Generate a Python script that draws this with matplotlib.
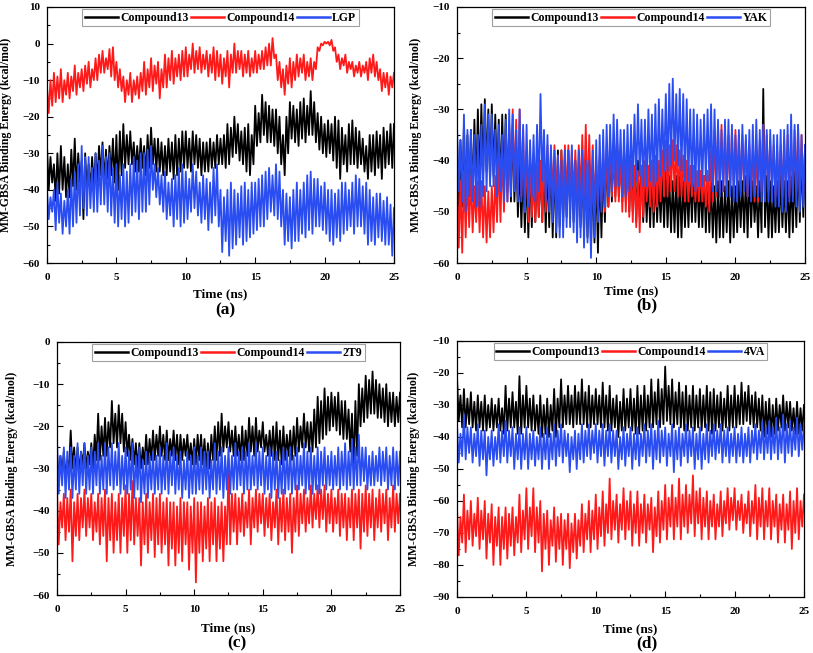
import numpy as np
import matplotlib
matplotlib.use("Agg")
import matplotlib.pyplot as plt
from matplotlib.ticker import MultipleLocator

plt.rcParams['font.family'] = ['Liberation Serif', 'DejaVu Serif']
plt.rcParams['font.weight'] = 'bold'

# peaks (t = 0, 0.25, ... 25) and troughs (t = 0.125, 0.375, ... 24.875)
# panel (a)
a_c13_hi = [-28, -31, -33, -30, -28, -31, -33, -29, -26, -30,
            -32, -30, -33, -31, -30, -28, -27, -29, -28, -26,
            -25, -24, -22, -25, -24, -27, -28, -26, -28, -25,
            -23, -26, -26, -27, -28, -26, -27, -25, -26, -24,
            -24, -26, -24, -25, -26, -27, -27, -26, -27, -25,
            -26, -25, -22, -23, -20, -22, -24, -23, -22, -25,
            -17, -19, -14, -16, -17, -18, -18, -20, -25, -20,
            -16, -17, -18, -16, -15, -17, -13, -16, -19, -20,
            -22, -21, -22, -20, -21, -23, -25, -22, -21, -23,
            -24, -26, -28, -25, -25, -24, -25, -23, -24, -22,
            -22]
a_c13_lo = [-40, -38, -43, -41, -40, -42, -42, -39, -40, -38,
            -48, -40, -40, -39, -38, -36, -38, -37, -36, -38,
            -40, -36, -34, -33, -33, -35, -35, -34, -36, -34,
            -33, -35, -35, -36, -36, -35, -37, -36, -35, -34,
            -34, -35, -33, -34, -36, -35, -35, -34, -34, -33,
            -33, -34, -33, -31, -30, -32, -33, -35, -36, -33,
            -28, -27, -25, -27, -27, -28, -30, -33, -36, -30,
            -26, -27, -28, -26, -27, -25, -25, -27, -29, -30,
            -31, -30, -32, -34, -37, -33, -35, -33, -33, -34,
            -33, -35, -37, -35, -36, -34, -37, -34, -33, -34]
a_c14_hi = [-12, -10, -8, -9, -7, -10, -8, -9, -6, -8,
            -7, -6, -5, -7, -4, -3, -2, -4, -1.5, -1,
            -5, -7, -9, -10, -8, -10, -9, -8, -5, -7,
            -4, -6, -5, -7, -3, -4, -2, -4, -3, -2,
            -1, -3, 0, -2, -1, -3, -2, -3, -1, -2,
            -3, -4, -2, -3, 0, -2, -2, -3, -2, -4,
            -2, -3, -2, -1, 0, 1.5, -3, -5, -7, -6,
            -4, -5, -3, -4, -3, -5, -4, -5, -1, 0,
            0.5, 0.5, 1, -1, -3, -4, -3, -5, -5, -6,
            -5, -6, -5, -4, -3, -5, -7, -8, -8, -9,
            -8]
a_c14_lo = [-19, -17, -16, -15, -16, -14, -15, -13, -14, -12,
            -13, -11, -12, -10, -10, -8, -8, -7, -9, -10,
            -12, -13, -16, -14, -16, -14, -15, -13, -14, -12,
            -13, -11, -15, -12, -12, -10, -11, -9, -10, -9,
            -9, -7, -8, -7, -8, -7, -9, -8, -10, -9,
            -11, -9, -12, -8, -8, -7, -9, -8, -9, -8,
            -8, -7, -7, -6, -6, -4, -10, -12, -14, -11,
            -12, -10, -9, -8, -10, -9, -10, -7, -2, -0.5,
            0, -0.5, -2, -5, -7, -6, -8, -7, -9, -8,
            -9, -8, -10, -8, -9, -10, -13, -12, -14, -12]
a_lig_hi = [-40, -42, -40, -38, -41, -43, -40, -37, -35, -33,
            -28, -31, -31, -34, -30, -32, -28, -31, -30, -34,
            -33, -36, -33, -35, -33, -31, -32, -30, -30, -29,
            -28, -33, -34, -36, -35, -38, -37, -36, -34, -33,
            -35, -37, -33, -35, -38, -36, -37, -38, -34, -33,
            -40, -42, -40, -38, -40, -41, -39, -38, -40, -38,
            -38, -37, -36, -35, -34, -36, -33, -35, -40, -41,
            -42, -40, -38, -40, -38, -36, -35, -37, -37, -39,
            -38, -40, -40, -41, -40, -38, -38, -40, -38, -36,
            -37, -39, -38, -40, -42, -41, -41, -43, -42, -44,
            -45]
a_lig_lo = [-48, -46, -51, -49, -52, -50, -52, -50, -49, -47,
            -45, -47, -45, -46, -46, -44, -44, -46, -47, -49,
            -50, -48, -50, -49, -47, -46, -48, -46, -46, -44,
            -40, -42, -44, -46, -48, -47, -50, -48, -50, -49,
            -48, -46, -45, -47, -49, -48, -51, -49, -47, -50,
            -57, -54, -58, -56, -55, -53, -55, -54, -53, -52,
            -51, -50, -50, -48, -46, -47, -48, -50, -55, -54,
            -56, -54, -54, -52, -53, -51, -52, -50, -50, -51,
            -52, -54, -55, -53, -54, -52, -51, -50, -52, -50,
            -50, -52, -55, -54, -55, -53, -54, -55, -55, -58]

# panel (b)
b_c13_hi = [-35, -36, -33, -35, -34, -32, -30, -29, -28, -30,
            -29, -31, -32, -31, -31, -34, -33, -37, -40, -41,
            -42, -41, -40, -41, -41, -40, -40, -39, -40, -38,
            -38, -39, -38, -40, -40, -41, -42, -41, -42, -43,
            -42, -40, -40, -39, -38, -37, -36, -38, -38, -39,
            -40, -41, -40, -41, -42, -43, -42, -43, -44, -43,
            -42, -43, -44, -43, -43, -44, -44, -43, -42, -43,
            -44, -43, -43, -44, -45, -44, -44, -45, -44, -45,
            -45, -44, -44, -43, -42, -44, -45, -44, -26, -43,
            -44, -45, -44, -43, -44, -44, -43, -42, -40, -39,
            -37]
b_c13_lo = [-50, -49, -48, -47, -47, -46, -45, -43, -42, -44,
            -43, -44, -45, -46, -46, -48, -48, -51, -53, -54,
            -55, -53, -52, -51, -52, -54, -53, -55, -55, -53,
            -52, -51, -50, -52, -52, -53, -54, -55, -57, -56,
            -58, -55, -52, -49, -48, -47, -47, -48, -48, -50,
            -50, -52, -51, -52, -52, -53, -53, -52, -52, -53,
            -53, -54, -54, -55, -55, -53, -53, -52, -52, -53,
            -53, -54, -54, -55, -56, -55, -55, -54, -56, -55,
            -54, -53, -54, -55, -53, -52, -55, -54, -53, -55,
            -55, -54, -54, -53, -54, -55, -54, -53, -52, -51]
b_c14_hi = [-42, -44, -42, -43, -43, -45, -44, -44, -45, -46,
            -45, -43, -40, -38, -35, -33, -30, -32, -30, -34,
            -38, -40, -42, -41, -40, -38, -37, -38, -37, -39,
            -38, -37, -37, -38, -38, -37, -35, -33, -35, -37,
            -40, -39, -38, -37, -36, -37, -37, -38, -38, -39,
            -40, -41, -42, -41, -40, -41, -40, -39, -40, -38,
            -36, -37, -36, -37, -38, -39, -40, -41, -41, -42,
            -42, -43, -42, -38, -34, -33, -33, -34, -35, -34,
            -34, -35, -35, -36, -37, -38, -38, -36, -33, -35,
            -36, -37, -38, -37, -36, -35, -36, -34, -33, -35,
            -38]
b_c14_lo = [-57, -58, -55, -53, -54, -52, -54, -55, -56, -55,
            -54, -52, -52, -50, -48, -46, -45, -47, -47, -50,
            -52, -51, -52, -51, -52, -50, -48, -47, -47, -49,
            -50, -48, -48, -47, -48, -47, -47, -48, -48, -49,
            -50, -48, -50, -49, -47, -48, -48, -50, -50, -51,
            -52, -53, -54, -51, -48, -49, -50, -49, -48, -47,
            -47, -46, -46, -47, -47, -48, -48, -47, -48, -48,
            -48, -49, -50, -48, -47, -46, -46, -47, -46, -45,
            -45, -46, -46, -47, -47, -48, -48, -46, -45, -46,
            -45, -47, -48, -47, -46, -47, -47, -46, -47, -46]
b_lig_hi = [-33, -36, -31, -34, -34, -35, -35, -33, -29, -31,
            -31, -34, -33, -35, -32, -30, -31, -34, -30, -33,
            -33, -36, -35, -33, -27, -34, -35, -37, -38, -39,
            -40, -38, -38, -37, -40, -38, -38, -40, -40, -38,
            -36, -35, -34, -33, -33, -31, -32, -34, -34, -33,
            -33, -31, -29, -32, -32, -30, -31, -29, -28, -30,
            -27, -25, -24, -27, -26, -27, -28, -30, -30, -31,
            -32, -31, -30, -29, -30, -32, -34, -32, -32, -33,
            -35, -34, -33, -35, -34, -33, -32, -34, -33, -34,
            -34, -35, -35, -34, -34, -33, -31, -33, -33, -35,
            -37]
b_lig_lo = [-46, -48, -50, -47, -48, -49, -49, -47, -46, -45,
            -45, -47, -46, -48, -48, -47, -46, -48, -48, -50,
            -49, -47, -48, -46, -44, -48, -50, -52, -54, -55,
            -55, -53, -53, -54, -56, -55, -57, -56, -59, -55,
            -52, -50, -49, -47, -46, -45, -45, -47, -47, -46,
            -45, -44, -43, -45, -45, -44, -45, -44, -43, -42,
            -42, -41, -40, -41, -42, -44, -44, -45, -46, -45,
            -45, -44, -44, -46, -46, -47, -46, -47, -47, -48,
            -48, -47, -46, -47, -48, -47, -47, -48, -48, -48,
            -48, -49, -49, -50, -50, -48, -48, -49, -50, -49]

# panel (c)
c_c13_hi = [-26, -27, -26, -28, -21, -25, -25, -26, -24, -26,
            -24, -22, -17, -20, -18, -19, -14, -17, -15, -17,
            -19, -22, -23, -24, -24, -25, -22, -23, -21, -22,
            -20, -22, -21, -23, -21, -22, -22, -23, -22, -24,
            -23, -22, -22, -23, -24, -22, -20, -19, -17, -20,
            -19, -21, -20, -22, -20, -21, -18, -20, -18, -21,
            -19, -22, -21, -20, -19, -21, -20, -22, -21, -20,
            -18, -20, -17, -19, -19, -16, -13, -14, -11, -13,
            -12, -13, -12, -14, -14, -16, -17, -14, -10, -11,
            -8, -9, -7, -9, -10, -11, -10, -12, -12, -13,
            -12]
c_c13_lo = [-33, -31, -32, -30, -30, -31, -31, -29, -30, -29,
            -30, -28, -28, -27, -27, -25, -24, -25, -24, -26,
            -27, -28, -29, -30, -30, -29, -29, -28, -28, -27,
            -27, -28, -28, -27, -28, -29, -28, -27, -28, -29,
            -29, -28, -29, -30, -30, -28, -28, -27, -26, -25,
            -26, -27, -27, -28, -28, -27, -26, -27, -26, -25,
            -26, -27, -27, -28, -28, -29, -28, -27, -28, -27,
            -26, -25, -25, -26, -26, -25, -24, -23, -22, -21,
            -20, -21, -22, -23, -23, -26, -30, -27, -20, -19,
            -18, -17, -17, -18, -18, -19, -20, -19, -20, -19]
c_c14_hi = [-35, -38, -36, -37, -35, -38, -36, -37, -35, -37,
            -36, -38, -36, -37, -35, -37, -36, -38, -36, -37,
            -34, -36, -33, -37, -37, -38, -36, -38, -36, -37,
            -36, -38, -37, -38, -38, -39, -37, -38, -38, -39,
            -37, -38, -38, -39, -37, -38, -37, -39, -38, -39,
            -30, -36, -36, -37, -36, -38, -35, -37, -35, -36,
            -36, -37, -36, -38, -35, -37, -35, -37, -36, -37,
            -34, -36, -35, -37, -34, -36, -34, -35, -34, -36,
            -35, -37, -35, -36, -36, -37, -35, -36, -35, -36,
            -34, -36, -35, -37, -35, -36, -35, -37, -34, -36,
            -36]
c_c14_lo = [-48, -44, -47, -45, -52, -46, -47, -44, -46, -44,
            -47, -45, -48, -46, -52, -47, -50, -47, -50, -46,
            -50, -47, -48, -46, -53, -48, -50, -47, -51, -48,
            -50, -48, -53, -49, -53, -50, -52, -48, -54, -50,
            -57, -50, -52, -49, -52, -48, -52, -49, -52, -48,
            -48, -45, -48, -45, -46, -44, -48, -44, -45, -43,
            -46, -44, -47, -44, -48, -45, -47, -45, -50, -45,
            -46, -43, -45, -43, -44, -42, -44, -42, -45, -43,
            -45, -43, -46, -44, -47, -44, -47, -44, -49, -45,
            -46, -44, -47, -44, -45, -43, -47, -44, -45, -43]
c_lig_hi = [-23, -27, -25, -26, -25, -27, -24, -26, -24, -27,
            -25, -26, -24, -27, -24, -25, -24, -26, -24, -27,
            -25, -26, -24, -27, -25, -28, -26, -27, -26, -27,
            -25, -27, -24, -26, -25, -27, -26, -28, -26, -27,
            -25, -27, -25, -26, -26, -28, -24, -26, -25, -27,
            -25, -27, -24, -26, -25, -26, -24, -27, -24, -26,
            -25, -27, -25, -26, -26, -28, -25, -26, -25, -27,
            -25, -27, -24, -26, -25, -27, -25, -26, -25, -27,
            -26, -27, -25, -26, -24, -26, -23, -25, -22, -25,
            -25, -27, -26, -27, -25, -26, -25, -27, -25, -26,
            -26]
c_lig_lo = [-36, -34, -37, -35, -37, -35, -36, -34, -36, -35,
            -36, -34, -36, -35, -36, -34, -35, -34, -36, -35,
            -36, -35, -37, -35, -38, -36, -37, -35, -36, -35,
            -36, -35, -36, -34, -36, -35, -37, -35, -37, -36,
            -36, -35, -36, -35, -37, -35, -36, -35, -37, -35,
            -36, -35, -35, -34, -36, -35, -35, -34, -35, -34,
            -36, -35, -37, -35, -37, -36, -36, -35, -36, -35,
            -35, -34, -36, -35, -36, -35, -36, -34, -35, -34,
            -35, -34, -35, -34, -35, -34, -35, -34, -34, -33,
            -35, -34, -34, -33, -34, -33, -35, -34, -35, -34]

# panel (d)
d_c13_hi = [-21, -27, -25, -28, -26, -29, -27, -29, -27, -30,
            -28, -30, -28, -31, -24, -28, -26, -29, -21, -27,
            -24, -28, -27, -30, -27, -30, -28, -30, -25, -28,
            -22, -27, -24, -27, -24, -26, -22, -26, -24, -27,
            -25, -27, -23, -27, -24, -28, -27, -29, -25, -28,
            -25, -28, -24, -27, -24, -27, -22, -26, -22, -25,
            -18, -24, -22, -26, -23, -26, -24, -27, -24, -27,
            -25, -27, -24, -26, -25, -27, -26, -28, -24, -27,
            -24, -27, -23, -26, -24, -27, -26, -28, -27, -29,
            -28, -30, -28, -30, -27, -29, -29, -31, -29, -31,
            -30]
d_c13_lo = [-35, -37, -37, -36, -37, -38, -37, -38, -38, -37,
            -38, -37, -38, -39, -38, -37, -37, -39, -39, -37,
            -37, -38, -38, -39, -40, -39, -40, -38, -40, -37,
            -37, -36, -36, -37, -36, -36, -36, -37, -37, -36,
            -36, -37, -37, -38, -38, -37, -40, -38, -38, -37,
            -38, -39, -39, -38, -38, -37, -37, -36, -37, -36,
            -35, -36, -37, -36, -37, -38, -38, -37, -38, -37,
            -38, -37, -38, -39, -38, -37, -38, -37, -38, -37,
            -37, -36, -36, -35, -36, -37, -37, -38, -40, -39,
            -40, -39, -38, -37, -38, -37, -38, -39, -39, -38]
d_c14_hi = [-62, -65, -58, -63, -60, -64, -59, -63, -60, -64,
            -61, -65, -62, -65, -62, -64, -62, -65, -58, -63,
            -56, -62, -56, -62, -60, -64, -63, -66, -62, -65,
            -64, -66, -64, -67, -64, -66, -61, -64, -60, -63,
            -58, -62, -57, -61, -53, -60, -58, -61, -56, -60,
            -57, -61, -57, -61, -58, -61, -59, -62, -57, -60,
            -55, -59, -55, -59, -53, -58, -55, -58, -52, -57,
            -56, -59, -57, -60, -58, -61, -57, -60, -56, -59,
            -56, -60, -58, -61, -57, -60, -55, -59, -56, -60,
            -56, -60, -58, -61, -58, -61, -57, -60, -56, -60,
            -58]
d_c14_lo = [-77, -73, -76, -72, -74, -71, -75, -72, -78, -73,
            -80, -74, -80, -75, -78, -74, -77, -73, -76, -72,
            -75, -71, -76, -73, -82, -75, -80, -74, -79, -75,
            -80, -75, -81, -76, -78, -74, -76, -72, -76, -72,
            -75, -71, -74, -70, -72, -69, -73, -69, -72, -69,
            -74, -70, -74, -70, -73, -69, -76, -71, -73, -69,
            -72, -68, -72, -68, -72, -68, -70, -67, -71, -67,
            -72, -68, -72, -68, -72, -68, -71, -67, -69, -66,
            -69, -66, -70, -67, -71, -67, -72, -68, -72, -68,
            -72, -68, -73, -69, -73, -69, -75, -70, -72, -68]
d_lig_hi = [-36, -39, -33, -37, -37, -39, -36, -38, -38, -40,
            -38, -40, -36, -38, -35, -38, -37, -39, -37, -39,
            -37, -39, -38, -40, -37, -39, -37, -39, -36, -38,
            -36, -38, -39, -40, -38, -39, -36, -38, -36, -38,
            -36, -38, -36, -38, -36, -38, -38, -40, -37, -39,
            -37, -39, -37, -39, -36, -38, -36, -38, -35, -38,
            -37, -39, -36, -38, -37, -39, -36, -38, -37, -39,
            -37, -39, -36, -38, -36, -38, -36, -38, -37, -39,
            -37, -39, -37, -39, -37, -38, -36, -38, -35, -37,
            -35, -37, -34, -37, -33, -36, -35, -37, -34, -36,
            -36]
d_lig_lo = [-48, -46, -47, -45, -48, -46, -49, -47, -52, -47,
            -49, -47, -48, -46, -48, -46, -50, -47, -50, -47,
            -50, -47, -49, -47, -50, -47, -50, -47, -49, -46,
            -48, -46, -51, -47, -50, -47, -48, -46, -47, -45,
            -48, -46, -49, -46, -48, -46, -50, -47, -49, -46,
            -50, -47, -49, -46, -48, -46, -50, -47, -48, -46,
            -49, -46, -51, -47, -49, -46, -48, -46, -50, -47,
            -50, -47, -48, -46, -47, -45, -48, -46, -48, -46,
            -48, -46, -48, -46, -48, -45, -47, -45, -47, -45,
            -47, -45, -47, -45, -48, -45, -46, -44, -46, -44]

ligands = ["LGP", "YAK", "2T9", "4VA"]
letters = ["(a)", "(b)", "(c)", "(d)"]
ylims = [(-60, 10), (-60, -10), (-60, 0), (-90, -10)]

panels = [
    [(a_c13_hi, a_c13_lo), (a_c14_hi, a_c14_lo), (a_lig_hi, a_lig_lo)],
    [(b_c13_hi, b_c13_lo), (b_c14_hi, b_c14_lo), (b_lig_hi, b_lig_lo)],
    [(c_c13_hi, c_c13_lo), (c_c14_hi, c_c14_lo), (c_lig_hi, c_lig_lo)],
    [(d_c13_hi, d_c13_lo), (d_c14_hi, d_c14_lo), (d_lig_hi, d_lig_lo)],
]

colors = ["black", "#ff1a1a", "#2a4df2"]

# axes boxes in figure fractions
boxes = [
    [0.0578, 0.5972, 0.4268, 0.3921],
    [0.5621, 0.5972, 0.4281, 0.3921],
    [0.0701, 0.0888, 0.4219, 0.3875],
    [0.5621, 0.0858, 0.4268, 0.3920],
]
ylab_x = [-0.10, -0.10, -0.114, -0.106]
xlab_y = [-0.10, -0.085, -0.108, -0.103]
letter_pos = [(0.277, 0.525), (0.796, 0.532), (0.2915, 0.0153), (0.796, 0.0153)]


def trace(hi, lo):
    # alternate peak / trough values along time
    v = np.empty(len(hi) + len(lo))
    v[0::2] = hi
    v[1::2] = lo
    t = np.linspace(0, 25, len(v))
    return t, v


fig = plt.figure(figsize=(8.13, 6.53), dpi=100)

for i in range(4):
    ax = fig.add_axes(boxes[i])
    names = ["Compound13", "Compound14", ligands[i]]
    for (hi, lo), c, nm in zip(panels[i], colors, names):
        t, v = trace(hi, lo)
        ax.plot(t, v, color=c, lw=1.3, label=nm)
    ax.set_xlim(0, 25)
    ax.set_ylim(*ylims[i])
    ax.xaxis.set_major_locator(MultipleLocator(5))
    ax.xaxis.set_minor_locator(MultipleLocator(2.5))
    ax.yaxis.set_major_locator(MultipleLocator(10))
    ax.yaxis.set_minor_locator(MultipleLocator(5))
    ax.tick_params(which='both', direction='in', top=False, right=False, labelsize=8, width=0.8)
    ax.tick_params(which='major', length=4)
    ax.tick_params(which='minor', length=2)
    ax.tick_params(axis='x', pad=7)
    ax.tick_params(axis='y', pad=5)
    for sp in ax.spines.values():
        sp.set_linewidth(0.9)
    ax.set_xlabel("Time (ns)", fontsize=9.5, fontweight='bold')
    ax.set_ylabel("MM-GBSA Binding Energy (kcal/mol)", fontsize=8.5, fontweight='bold')
    ax.xaxis.set_label_coords(0.5, xlab_y[i])
    ax.yaxis.set_label_coords(ylab_x[i], 0.5)
    leg = ax.legend(loc='upper center', ncol=3, fontsize=8.5, frameon=True, fancybox=False,
                    handlelength=2.8, handletextpad=0.2, columnspacing=0.2, borderpad=0.2,
                    borderaxespad=0.2, bbox_to_anchor=(0.5, 1.0))
    leg.get_frame().set_edgecolor('#888888')
    leg.get_frame().set_linewidth(0.8)
    for ln in leg.get_lines():
        ln.set_linewidth(1.8)
    fig.text(letter_pos[i][0], letter_pos[i][1], letters[i], fontsize=12.5, fontweight='bold',
             ha='center', va='center')

fig.savefig("out.png", dpi=100)
